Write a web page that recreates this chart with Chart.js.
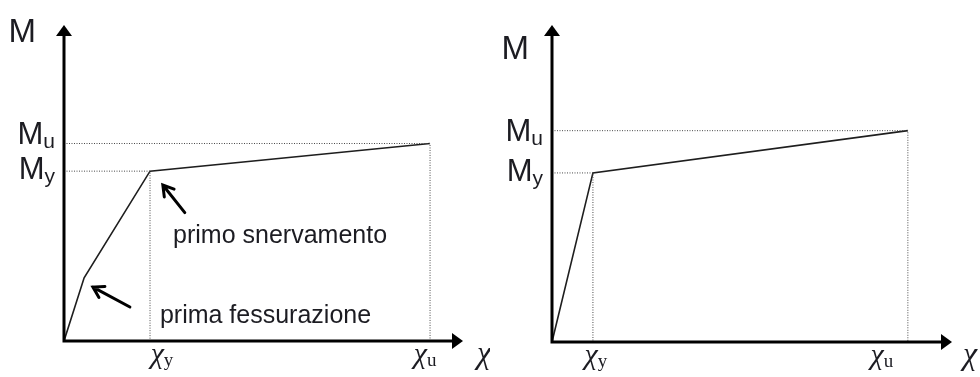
<!DOCTYPE html>
<html>
<head>
<meta charset="utf-8">
<script src="https://cdn.jsdelivr.net/npm/chart.js@4.4.1/dist/chart.umd.min.js"></script>
<style>
  body { margin: 0; background: #fff; }
  .panel { position: absolute; top: 0; width: 490px; height: 377px; }
</style>
</head>
<body>
<div class="panel" style="left:0"><canvas id="left" width="490" height="377"></canvas></div>
<div class="panel" style="left:490px"><canvas id="right" width="490" height="377"></canvas></div>
<script>
// Left diagram: trilinear curve (origin, cracking, yielding, ultimate)
const leftCurvature = [0, 0.55, 2.35, 10];
const leftMoment = [0, 32, 86, 100];

// Right diagram: bilinear curve (origin, yielding, ultimate)
const rightCurvature = [0, 1.15, 10];
const rightMoment = [0, 80, 100];

// Subscripts used on the axes
const momentSubs = ['y', 'u'];
const curvatureSubs = ['y', 'u'];

const textColor = '#1c1c22';

// draw main text + subscript, anchored on the left edge
function drawSub(ctx, main, sub, x, base, mainFont, subFont, subDrop) {
  ctx.font = mainFont;
  ctx.fillText(main, x, base);
  const w = ctx.measureText(main).width;
  ctx.font = subFont;
  ctx.fillText(sub, x + w, base + subDrop);
}

function subWidth(ctx, main, sub, mainFont, subFont) {
  ctx.font = mainFont;
  const a = ctx.measureText(main).width;
  ctx.font = subFont;
  return a + ctx.measureText(sub).width;
}

function drawArrow(ctx, x1, y1, x2, y2) {
  const ang = Math.atan2(y2 - y1, x2 - x1);
  ctx.beginPath();
  ctx.moveTo(x1, y1);
  ctx.lineTo(x2, y2);
  ctx.moveTo(x2 - 12 * Math.cos(ang - 0.55), y2 - 12 * Math.sin(ang - 0.55));
  ctx.lineTo(x2, y2);
  ctx.lineTo(x2 - 12 * Math.cos(ang + 0.55), y2 - 12 * Math.sin(ang + 0.55));
  ctx.stroke();
}

// Axes with arrowheads, labels and notes
const axesPlugin = {
  id: 'axes',
  afterDatasetsDraw(chart, args, opts) {
    const ctx = chart.ctx;
    const { left, right, top, bottom } = chart.chartArea;
    const xs = chart.scales.x, ys = chart.scales.y;
    ctx.save();
    ctx.strokeStyle = '#000';
    ctx.fillStyle = '#000';
    ctx.lineWidth = 3;
    ctx.beginPath();
    ctx.moveTo(left, bottom + 1.5);
    ctx.lineTo(left, top + 8);
    ctx.moveTo(left - 1.5, bottom);
    ctx.lineTo(right - 8, bottom);
    ctx.stroke();
    ctx.beginPath();
    ctx.moveTo(left, top);
    ctx.lineTo(left - 8, top + 11);
    ctx.lineTo(left + 8, top + 11);
    ctx.closePath();
    ctx.fill();
    ctx.beginPath();
    ctx.moveTo(right, bottom);
    ctx.lineTo(right - 11, bottom - 8);
    ctx.lineTo(right - 11, bottom + 8);
    ctx.closePath();
    ctx.fill();

    ctx.fillStyle = textColor;
    ctx.textBaseline = 'alphabetic';
    ctx.textAlign = 'left';
    const sans = '"Liberation Sans", Arial, sans-serif';
    const serif = '"Liberation Serif", "Times New Roman", serif';

    // axis titles
    ctx.font = '33px ' + sans;
    const mw = ctx.measureText('M').width;
    ctx.fillText('M', left - opts.titleDx - mw, opts.titleY);
    ctx.font = 'italic 32px ' + serif;
    ctx.fillText('\u03C7', right + opts.chiDx, bottom + 22);

    // moment ticks
    const mFont = '31px ' + sans, sFont = '21px ' + sans;
    opts.moments.forEach((v, i) => {
      const py = ys.getPixelForValue(v) + opts.mDy[i];
      const w = subWidth(ctx, 'M', momentSubs[i], mFont, sFont);
      drawSub(ctx, 'M', momentSubs[i], left - 9 - w, py, mFont, sFont, 4);
    });

    // curvature ticks
    const cFont = 'italic 30px ' + serif, csFont = '19px ' + serif;
    opts.curvatures.forEach((v, i) => {
      const px = xs.getPixelForValue(v) + opts.cDx[i];
      const w = subWidth(ctx, '\u03C7', curvatureSubs[i], cFont, csFont);
      drawSub(ctx, '\u03C7', curvatureSubs[i], px - w / 2, bottom + 22, cFont, csFont, 3);
    });

    // notes with arrows
    (opts.notes || []).forEach(n => {
      ctx.font = '25px ' + sans;
      ctx.fillStyle = textColor;
      ctx.fillText(n.text, xs.getPixelForValue(n.x), ys.getPixelForValue(n.y));
      ctx.strokeStyle = '#000';
      ctx.lineWidth = 3;
      ctx.lineCap = 'round';
      drawArrow(ctx, xs.getPixelForValue(n.tail[0]), ys.getPixelForValue(n.tail[1]),
        xs.getPixelForValue(n.tip[0]), ys.getPixelForValue(n.tip[1]));
    });
    ctx.restore();
  }
};

function makeChart(id, curv, mom, xMax, yMax, pad, opts) {
  const n = curv.length;
  const chiY = curv[n - 2], mY = mom[n - 2];
  const chiU = curv[n - 1], mU = mom[n - 1];
  const dotted = { showLine: true, borderColor: '#4a4a4a', borderWidth: 1, borderDash: [1, 1.5], pointRadius: 0 };
  opts.moments = [mY, mU];
  opts.curvatures = [chiY, chiU];
  return new Chart(document.getElementById(id), {
    type: 'scatter',
    data: {
      datasets: [
        Object.assign({ data: [{ x: 0, y: mU }, { x: chiU, y: mU }, { x: chiU, y: 0 }] }, dotted),
        Object.assign({ data: [{ x: 0, y: mY }, { x: chiY, y: mY }, { x: chiY, y: 0 }] }, dotted),
        {
          data: curv.map((c, i) => ({ x: c, y: mom[i] })),
          showLine: true,
          borderColor: '#1e1e1e',
          borderWidth: 1.6,
          pointRadius: 0
        }
      ]
    },
    options: {
      responsive: false,
      animation: false,
      layout: { padding: pad },
      plugins: { legend: { display: false }, tooltip: { enabled: false }, axes: opts },
      scales: {
        x: { type: 'linear', display: false, min: 0, max: xMax },
        y: { type: 'linear', display: false, min: 0, max: yMax }
      }
    },
    plugins: [axesPlugin]
  });
}

makeChart('left', leftCurvature, leftMoment, 10.9, 160,
  { left: 64, right: 27, top: 25, bottom: 36 },
  {
    titleDx: 28, titleY: 42, chiDx: 14,
    mDy: [8, 0], cDx: [12, -5],
    notes: [
      { text: 'primo snervamento', x: 2.98, y: 49.6, tail: [3.3, 65], tip: [2.7, 79] },
      { text: 'prima fessurazione', x: 2.62, y: 9.1, tail: [1.8, 17.2], tip: [0.79, 27.3] }
    ]
  });

makeChart('right', rightCurvature, rightMoment, 11.24, 150,
  { left: 62, right: 28, top: 25, bottom: 35 },
  { titleDx: 23, titleY: 59, chiDx: 11, mDy: [8, 10], cDx: [3, -26] });
</script>
</body>
</html>
